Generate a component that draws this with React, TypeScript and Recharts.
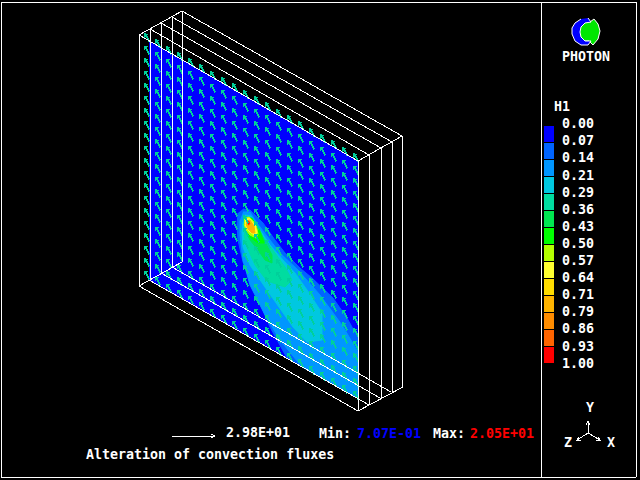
import React from 'react';
import { ScatterChart, Scatter, XAxis, YAxis } from 'recharts';

type Pt = { x: number; y: number };

const pts = (...v: number[]): Pt[] => {
  const out: Pt[] = [];
  for (let i = 0; i < v.length; i += 2) out.push({ x: v[i], y: v[i + 1] });
  return out;
};

// H1 scale
const legendLevels = ['0.00', '0.07', '0.14', '0.21', '0.29', '0.36', '0.43', '0.50', '0.57', '0.64', '0.71', '0.79', '0.86', '0.93', '1.00'];
const legendLabelY = [123, 140, 157, 175, 192, 209, 226, 243, 260, 277, 294, 311, 328, 346, 363];
const legendColors = ['#0000ff', '#0064ff', '#0096ff', '#00c8e0', '#00dca0', '#00e650', '#00ff00', '#b4ff00', '#ffff30', '#ffdc00', '#ffb400', '#ff8c00', '#ff6400', '#ff0000'];
const legendSwatchY = [134, 151, 168, 185, 202, 219, 236, 253, 270, 287, 304, 321, 338, 355];

// vector grid on the slab
const arrowColumnX = [144, 155, 166, 177, 188, 199, 210, 221, 232, 243, 254, 265, 276, 287, 298, 309, 320, 331, 342, 353];
const arrowColumnTop = [33, 39, 46, 52, 58, 64, 71, 77, 83, 90, 96, 102, 109, 115, 121, 128, 134, 140, 147, 153];
const arrowRowDrop = [0, 12.5, 25, 37.5, 50, 62.5, 75, 87.5, 100, 112.5, 125, 137.5, 150, 162.5, 175, 187.5, 200, 212.5, 225, 237.5];

const slabPlane = pts(149, 41, 358, 161, 358, 398, 149, 280);

// filled contours, lowest level first
const contourBands: { color: string; outline: Pt[] }[] = [
  { color: legendColors[1], outline: pts(243, 209, 250, 210, 263, 223, 275, 240, 285, 253, 300, 268, 312, 278, 333, 298, 347, 318, 358, 338, 358, 398, 287, 358, 270, 327, 260, 303, 250, 280, 243, 262, 238, 240, 237, 225, 238, 213) },
  { color: legendColors[2], outline: pts(243, 212, 250, 212, 257, 223, 270, 240, 280, 253, 298, 270, 320, 295, 342, 325, 358, 352, 358, 398, 302, 367, 280, 340, 265, 315, 250, 285, 243, 260, 240, 235, 240, 220) },
  { color: legendColors[3], outline: pts(245, 215, 251, 216, 258, 227, 270, 245, 283, 260, 295, 273, 307, 290, 322, 313, 322, 340, 307, 342, 293, 327, 267, 290, 250, 265, 243, 247, 242, 232, 243, 222) },
  { color: legendColors[4], outline: pts(245, 218, 252, 219, 263, 237, 275, 253, 285, 267, 292, 280, 285, 287, 267, 281, 255, 265, 247, 247, 244, 235) },
  { color: legendColors[5], outline: pts(246, 222, 258, 226, 264, 240, 272, 255, 272, 263, 265, 260, 258, 250, 250, 240, 246, 232) },
  { color: legendColors[6], outline: pts(244, 218, 252, 218, 260, 232, 264, 243, 258, 243, 250, 237, 245, 228) },
  { color: legendColors[7], outline: pts(244, 219, 249, 217, 256, 224, 258, 234, 256, 238, 250, 235, 246, 230, 244, 224) },
  { color: legendColors[8], outline: pts(245, 220, 249, 218, 255, 225, 257, 233, 254, 235, 249, 231, 245, 225) },
  { color: legendColors[10], outline: pts(246, 221, 250, 220, 254, 226, 255, 233, 252, 233, 248, 229, 246, 224) },
  { color: legendColors[12], outline: pts(247, 221, 249, 221, 250, 224, 248, 225) },
  { color: legendColors[13], outline: pts(247, 222, 249, 222, 249, 224, 248, 224) },
];

const wireframe: Pt[][] = [
  pts(139, 35, 358, 161), pts(150, 29, 369, 155), pts(161, 23, 381, 148), pts(172, 17, 392, 142), pts(182, 11, 402, 136),
  pts(139, 286, 358, 411), pts(149, 280, 369, 405), pts(161, 273, 380, 398), pts(172, 267, 391, 392),
  pts(139, 35, 139, 286), pts(150, 29, 150, 280), pts(161, 23, 161, 273), pts(172, 17, 172, 267), pts(182, 11, 182, 262),
  pts(358, 161, 358, 411), pts(369, 155, 369, 405), pts(381, 148, 381, 398), pts(392, 142, 392, 392), pts(402, 136, 403, 387),
  pts(139, 35, 182, 11), pts(139, 286, 182, 262), pts(358, 161, 402, 136), pts(358, 411, 403, 387),
];

const frame: Pt[][] = [
  pts(1, 2, 636, 2), pts(636, 2, 636, 477), pts(636, 477, 1, 477), pts(1, 477, 1, 2), pts(541, 2, 541, 477),
];

const refVector = pts(172, 436, 215, 436);
const refHead = pts(211, 434, 215, 436, 211, 438);
const triad: Pt[][] = [
  pts(588, 433, 588, 421), pts(586, 425, 588, 421, 590, 425),
  pts(588, 433, 577, 440), pts(581, 440, 577, 440, 579, 437),
  pts(588, 433, 600, 440), pts(596, 440, 600, 440, 598, 437),
];

const logoGreen = pts(590, 22, 594, 19, 598, 24, 600, 31, 598, 39, 593, 45, 589, 41, 583, 41, 580, 36, 579, 30, 581, 25, 585, 22);
const logoBlue = pts(588, 18, 591, 22, 585, 23, 581, 27, 580, 32, 581, 37, 585, 41, 591, 41, 588, 45, 581, 45, 575, 41, 572, 34, 572, 28, 575, 23, 581, 19);

const captions = [
  { x: 562, y: 56, label: 'PHOTON', color: '#ffffff' },
  { x: 554, y: 106, label: 'H1', color: '#ffffff' },
  { x: 226, y: 432, label: '2.98E+01', color: '#ffffff' },
  { x: 319, y: 433, label: 'Min:', color: '#ffffff' },
  { x: 357, y: 433, label: '7.07E-01', color: '#0000ff' },
  { x: 433, y: 433, label: 'Max:', color: '#ffffff' },
  { x: 470, y: 433, label: '2.05E+01', color: '#ff0000' },
  { x: 86, y: 454, label: 'Alteration of convection fluxes', color: '#ffffff' },
  { x: 586, y: 407, label: 'Y', color: '#ffffff' },
  { x: 564, y: 442, label: 'Z', color: '#ffffff' },
  { x: 607, y: 442, label: 'X', color: '#ffffff' },
];

const arrowData = arrowColumnX.flatMap((x, i) => arrowRowDrop.map(d => ({ x, y: arrowColumnTop[i] + d })));
const legendLabelData = legendLevels.map((label, i) => ({ x: 562, y: legendLabelY[i], label, color: '#ffffff' }));
const swatchData = legendColors.map((color, i) => ({ x: 549, y: legendSwatchY[i], color }));

const ARROW = '#00d09a';
const noDot = () => null;

const ArrowGlyph = (p: any) => (
  <path
    transform={`translate(${p.cx} ${p.cy})`}
    d="M0 0L4 1L3 2.5L6 8L4.5 9L1.5 3.5L0.5 4.5Z"
    fill={ARROW}
    shapeRendering="crispEdges"
  />
);

const Swatch = (p: any) => (
  <rect x={p.cx - 5} y={p.cy - 8} width={10} height={16} fill={p.payload.color} shapeRendering="crispEdges" />
);

const Caption = (p: any) => (
  <text
    x={p.cx}
    y={p.cy}
    dominantBaseline="central"
    fontFamily="'DejaVu Sans Mono', monospace"
    fontSize={13.3}
    fontWeight="bold"
    fill={p.payload.color}
  >
    {p.payload.label}
  </text>
);

const App: React.FC = () => {
  const wires = [...wireframe, ...frame, refVector, refHead, ...triad];
  return (
    <div style={{ position: 'absolute', left: 0, top: 0, width: 640, height: 480, background: '#000' }}>
      <ScatterChart width={640} height={480} margin={{ top: 0, right: 0, bottom: 0, left: 0 }}>
        <XAxis type="number" dataKey="x" domain={[0, 640]} hide />
        <YAxis type="number" dataKey="y" domain={[0, 480]} reversed hide />
        <Scatter data={slabPlane} shape={noDot} isAnimationActive={false} line={{ fill: '#0000ff', stroke: '#0000ff', strokeWidth: 1 }} />
        {contourBands.map((b, i) => (
          <Scatter key={i} data={b.outline} shape={noDot} isAnimationActive={false} line={{ fill: b.color, stroke: b.color, strokeWidth: 1 }} />
        ))}
        <Scatter data={arrowData} shape={ArrowGlyph} isAnimationActive={false} />
        <Scatter data={logoGreen} shape={noDot} isAnimationActive={false} line={{ fill: '#00e600', stroke: '#ffffff', strokeWidth: 1 }} />
        <Scatter data={logoBlue} shape={noDot} isAnimationActive={false} line={{ fill: '#0000ff', stroke: '#ffffff', strokeWidth: 1 }} />
        {wires.map((w, i) => (
          <Scatter key={i} data={w} shape={noDot} isAnimationActive={false} line={{ stroke: '#ffffff', strokeWidth: 1, shapeRendering: 'crispEdges' }} />
        ))}
        <Scatter data={swatchData} shape={Swatch} isAnimationActive={false} />
        <Scatter data={legendLabelData} shape={Caption} isAnimationActive={false} />
        <Scatter data={captions} shape={Caption} isAnimationActive={false} />
      </ScatterChart>
    </div>
  );
};

export default App;
